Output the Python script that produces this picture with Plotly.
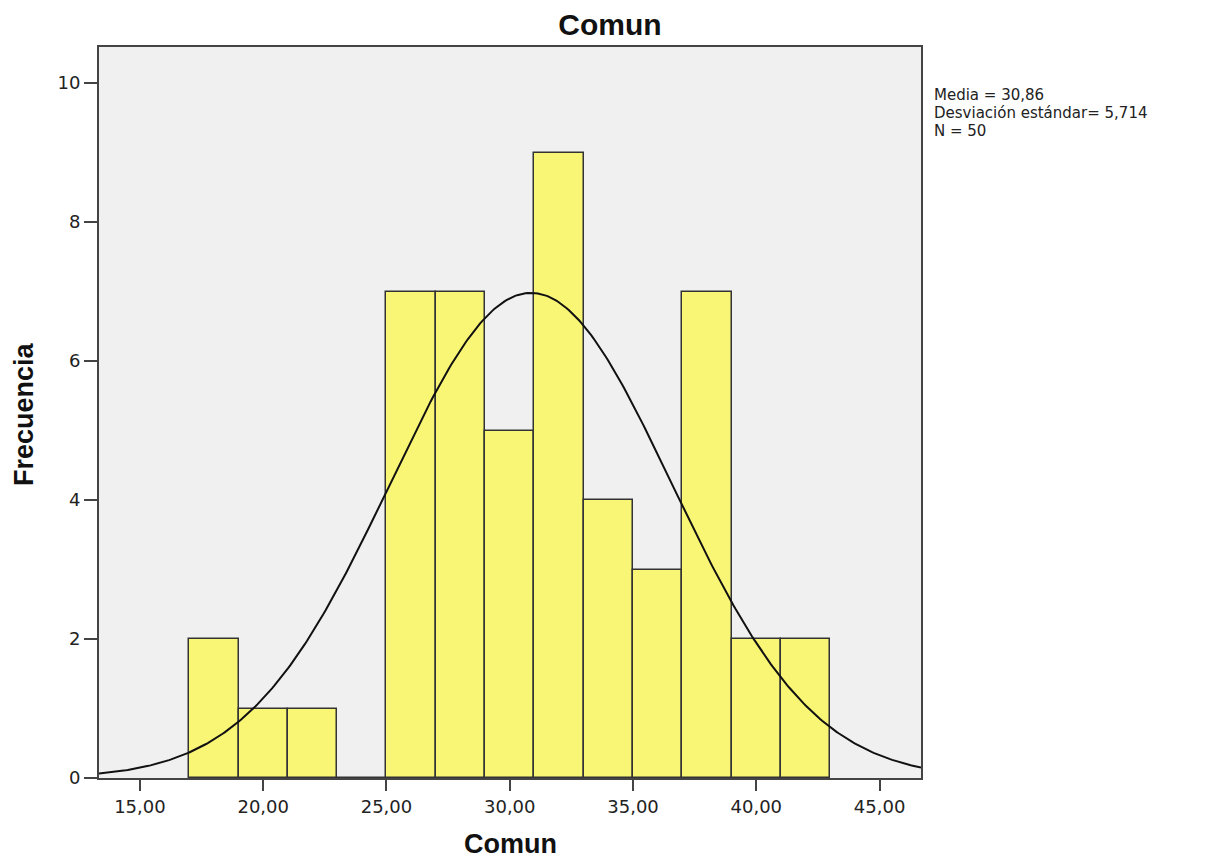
import numpy as np
import plotly.graph_objects as go

# Histogram data
bin_starts = [17, 19, 21, 23, 25, 27, 29, 31, 33, 35, 37, 39, 41]
counts = [2, 1, 1, 0, 7, 7, 5, 9, 4, 3, 7, 2, 2]
bin_width = 2
mean_val = 30.86
std_val = 5.714
n_val = 50

x_tick_vals = [15, 20, 25, 30, 35, 40, 45]
x_tick_text = ["15,00", "20,00", "25,00", "30,00", "35,00", "40,00", "45,00"]
y_tick_vals = [0, 2, 4, 6, 8, 10]

x_range = [13.34, 46.68]
y_range = [0, 10.52]

stats_lines = [
    "Media = " + f"{mean_val:.2f}".replace(".", ","),
    "Desviación estándar= " + f"{std_val:.3f}".replace(".", ","),
    "N = " + str(n_val),
]

centers = [s + bin_width / 2 for s in bin_starts]

# plot area in pixels
L, R, T, B = 99, 921, 47, 778
W, H = R - L, B - T

fig = go.Figure()
fig.add_trace(go.Bar(
    x=centers, y=counts, width=bin_width,
    marker=dict(color="#F9F575", line=dict(color="#333333", width=1.5)),
    hoverinfo="skip", showlegend=False,
))

# Normal curve scaled to the histogram
xs = np.linspace(x_range[0], x_range[1], 400)
ys = n_val * bin_width / (std_val * np.sqrt(2 * np.pi)) * np.exp(-0.5 * ((xs - mean_val) / std_val) ** 2)
fig.add_trace(go.Scatter(
    x=xs, y=ys, mode="lines", line=dict(color="#111111", width=2),
    hoverinfo="skip", showlegend=False,
))

bold_font = "Liberation Sans, Arial, sans-serif"
tick_font = "DejaVu Sans, Verdana, sans-serif"

annotations = []
# x-axis title
annotations.append(dict(
    text="<b>Comun</b>", xref="paper", yref="paper",
    x=0.5, y=(B - 844) / H, xanchor="center", yanchor="middle",
    showarrow=False, font=dict(size=27, color="#111111", family=bold_font),
))
# y-axis title
annotations.append(dict(
    text="<b>Frecuencia</b>", xref="paper", yref="paper", textangle=-90,
    x=(24 - L) / W, y=(B - 414) / H, xanchor="center", yanchor="middle",
    showarrow=False, font=dict(size=27, color="#111111", family=bold_font),
))
# stats text
for line, yc in zip(stats_lines, [95, 113, 131]):
    annotations.append(dict(
        text=line, xref="paper", yref="paper",
        x=(933 - L) / W, y=(B - yc) / H, xanchor="left", yanchor="middle",
        align="left", showarrow=False, borderpad=0,
        font=dict(size=15, color="#222222", family=tick_font),
    ))

fig.update_layout(
    width=1220, height=861,
    margin=dict(l=L, r=1220 - R, t=T, b=861 - B),
    paper_bgcolor="white",
    plot_bgcolor="#F0F0F0",
    font=dict(family=tick_font, size=18, color="#222222"),
    title=dict(text="<b>Comun</b>", x=0.5, xref="container", xanchor="center",
               y=1 - 24 / 861, yref="container", yanchor="middle",
               font=dict(size=30, color="#111111", family=bold_font)),
    bargap=0,
    xaxis=dict(
        range=x_range, tickvals=x_tick_vals, ticktext=x_tick_text,
        showgrid=False, zeroline=False,
        showline=True, mirror=True, linecolor="#444444", linewidth=2,
        ticks="outside", ticklen=11, tickwidth=2, tickcolor="#444444",
        tickfont=dict(size=18, color="#222222", family=tick_font),
    ),
    yaxis=dict(
        range=y_range, tickvals=y_tick_vals,
        showgrid=False, zeroline=False,
        showline=True, mirror=True, linecolor="#444444", linewidth=2,
        ticks="outside", ticklen=13, tickwidth=2, tickcolor="#444444",
        tickfont=dict(size=18, color="#222222", family=tick_font),
    ),
    annotations=annotations,
)

fig.write_html("out.html")
